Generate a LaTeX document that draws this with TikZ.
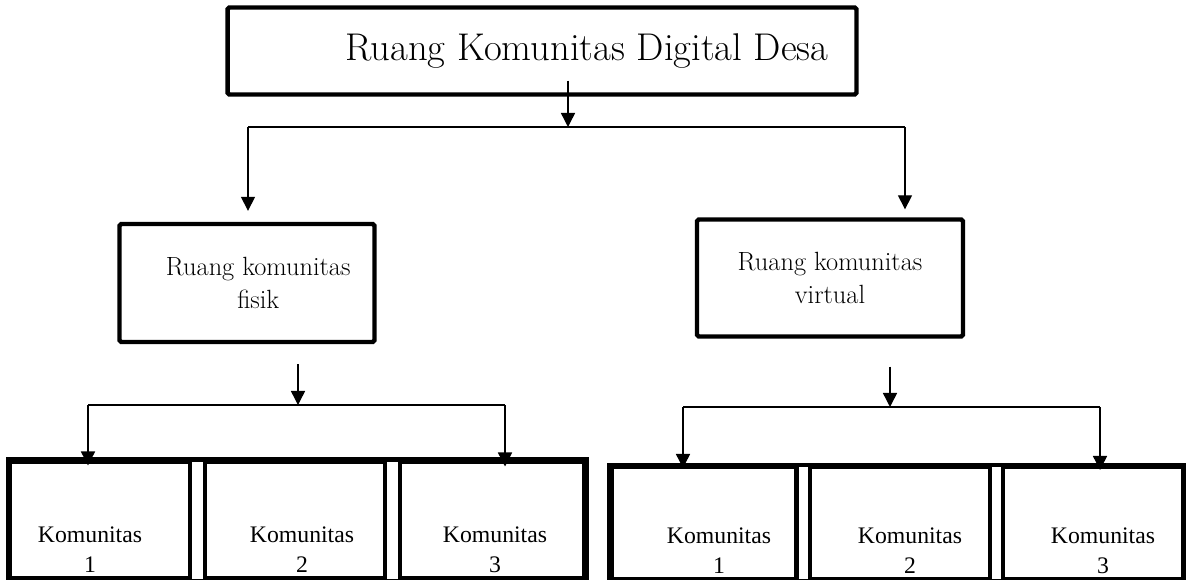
\documentclass[tikz,border=0pt]{standalone}
\usepackage{fontspec}
\newfontfamily\timesfont{Liberation Serif}
\usetikzlibrary{arrows.meta,positioning,fit,calc}

\tikzset{
  mainbox/.style={draw,line width=2.5pt,rounded corners=1pt,align=center},
  kbox/.style={draw,line width=2.3pt,minimum height=2.34cm},
  ktext/.style={align=center,font=\timesfont\fontsize{13.5}{17}\selectfont},
  link/.style={line width=0.8pt},
  arr/.style={link,-{Triangle[width=8pt,length=8pt]}}
}

\begin{document}
\begin{tikzpicture}[x=0.02cm,y=-0.02cm]
\useasboundingbox (0,0) rectangle (1186,579);

% top level
\node[mainbox,minimum width=12.58cm,minimum height=1.74cm,
  font=\fontsize{22}{26}\selectfont] (desa) at (542,51) {\hspace*{1.8cm}Ruang Komunitas Digital Desa};

% second level
\node[mainbox,minimum width=5.1cm,minimum height=2.36cm,
  font=\fontsize{15}{19}\selectfont] (fisik) at (247,283) {\hspace*{0.45cm}Ruang komunitas\\\hspace*{0.45cm}fisik};
\node[mainbox,minimum width=5.32cm,minimum height=2.34cm,
  font=\fontsize{15}{19}\selectfont] (virtual) at (830,278) {Ruang komunitas\\virtual};

% komunitas under fisik
\node[kbox,minimum width=3.6cm] (f1) at (100,520) {};
\node[kbox,minimum width=3.6cm] (f2) at (295,520) {};
\node[kbox,minimum width=3.7cm] (f3) at (492,520) {};
\node[fit=(f1)(f3),draw,line width=2.3pt,inner sep=0pt] (fgroup) {};
\node[ktext] (f1t) at ([xshift=-0.2cm,yshift=-0.6cm]f1.center) {Komunitas\\1};
\node[ktext] (f2t) at ([xshift=0.14cm,yshift=-0.6cm]f2.center) {Komunitas\\2};
\node[ktext] (f3t) at ([xshift=0.06cm,yshift=-0.6cm]f3.center) {Komunitas\\3};

% komunitas under virtual
\node[kbox,minimum width=3.7cm,minimum height=2.24cm] (v1) at (704,523) {};
\node[kbox,minimum width=3.6cm,minimum height=2.24cm] (v2) at (900,523) {};
\node[kbox,minimum width=3.6cm,minimum height=2.24cm] (v3) at (1093,523) {};
\node[fit=(v1)(v3),draw,line width=2.3pt,inner sep=0pt] (vgroup) {};
\node[ktext] (v1t) at ([xshift=0.3cm,yshift=-0.55cm]v1.center) {Komunitas\\1};
\node[ktext] (v2t) at ([xshift=0.2cm,yshift=-0.55cm]v2.center) {Komunitas\\2};
\node[ktext] (v3t) at ([xshift=0.2cm,yshift=-0.55cm]v3.center) {Komunitas\\3};

% junctions
\coordinate (j0) at (568,127);
\coordinate (ja) at (248,127);
\coordinate (jb) at (905,127);
\coordinate (jf) at (298,405);
\coordinate (jf1) at (88,405);
\coordinate (jf2) at (505,405);
\coordinate (jv) at (890,407);
\coordinate (jv1) at (683,407);
\coordinate (jv2) at (1100,407);

\draw[arr] (j0 |- desa.south) ++(0,0.32cm) -- (j0);
\draw[link] (ja) -- (jb);
\draw[arr,shorten >=0.22cm] (ja) -- (ja |- fisik.north);
\draw[arr,shorten >=0.16cm] (jb) -- (jb |- virtual.north);

\draw[arr] (jf |- fisik.south) ++(0,-0.4cm) -- (jf);
\draw[link] (jf1) -- (jf2);
\draw[arr,shorten >=-0.12cm] (jf1) -- (jf1 |- f1.north);
\draw[arr,shorten >=-0.14cm] (jf2) -- (jf2 |- f3.north);

\draw[arr] (jv |- virtual.south) ++(0,-0.56cm) -- (jv);
\draw[link] (jv1) -- (jv2);
\draw[arr,shorten >=-0.06cm] (jv1) -- (jv1 |- v1.north);
\draw[arr,shorten >=-0.1cm] (jv2) -- (jv2 |- v3.north);
\end{tikzpicture}
\end{document}
